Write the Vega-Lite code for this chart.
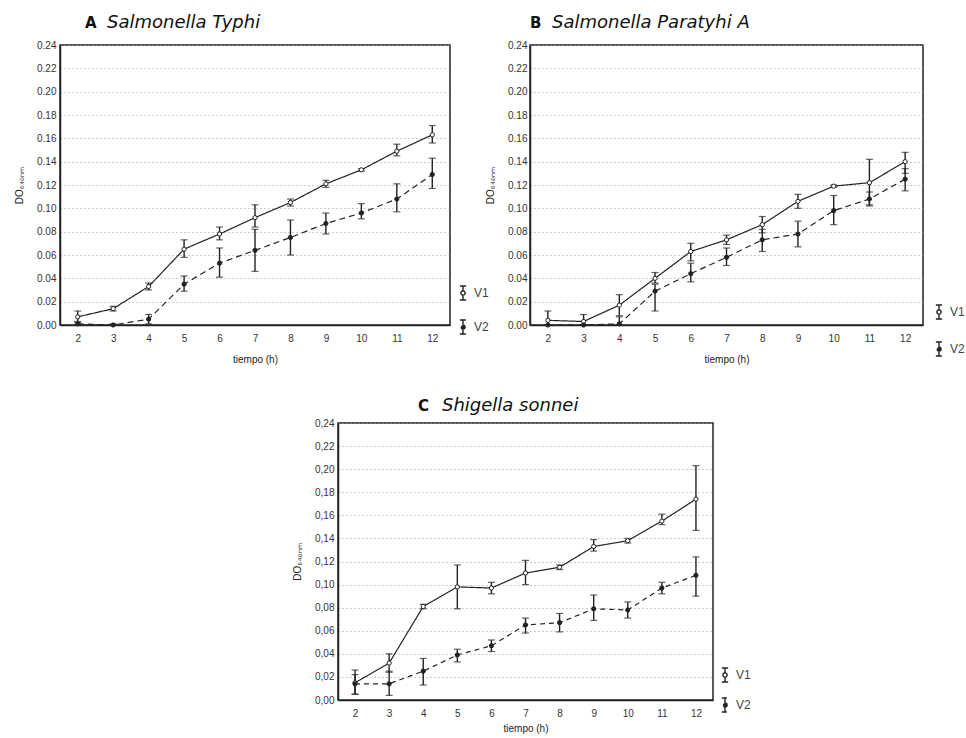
{
  "$schema": "https://vega.github.io/schema/vega-lite/v6.json",
  "background": "white",
  "padding": {"left": 13, "top": 12, "right": 0, "bottom": 0},
  "config": {
    "view": {"stroke": "#222", "strokeWidth": 1.5},
    "axis": {"labelFont": "Liberation Sans", "labelFontSize": 10, "labelColor": "#333", "labelOverlap": false, "titleFont": "Liberation Sans", "titleFontSize": 10, "titleFontWeight": "normal", "titleColor": "#222", "domainColor": "#222", "domainWidth": 1.5, "ticks": false, "grid": false},
    "axisY": {"grid": true, "gridColor": "#999", "gridDash": [1, 3], "labelPadding": 4, "titlePadding": 12},
    "axisX": {"labelPadding": 8, "titlePadding": 11},
    "legend": {"title": null, "orient": "none", "padding": 0, "symbolType": "M-0.45,-1H0.45M0,-1V-0.3M0,0.3V1M-0.45,1H0.45M0.3,0A0.3,0.3 0 1,1 -0.3,0A0.3,0.3 0 1,1 0.3,0Z", "symbolSize": 196, "symbolStrokeColor": "#222", "symbolFillColor": "white", "symbolStrokeWidth": 1.4, "labelFont": "Liberation Sans", "labelFontSize": 12, "labelColor": "#444", "labelOffset": 3}
  },
  "datasets": {
    "A": [
      {"t": 2, "serie": "V1", "y": 0.007, "lo": 0.003, "hi": 0.012},
      {"t": 3, "serie": "V1", "y": 0.014, "lo": 0.012, "hi": 0.016},
      {"t": 4, "serie": "V1", "y": 0.033, "lo": 0.030, "hi": 0.036},
      {"t": 5, "serie": "V1", "y": 0.065, "lo": 0.058, "hi": 0.073},
      {"t": 6, "serie": "V1", "y": 0.078, "lo": 0.073, "hi": 0.084},
      {"t": 7, "serie": "V1", "y": 0.092, "lo": 0.084, "hi": 0.103},
      {"t": 8, "serie": "V1", "y": 0.105, "lo": 0.102, "hi": 0.108},
      {"t": 9, "serie": "V1", "y": 0.121, "lo": 0.118, "hi": 0.124},
      {"t": 10, "serie": "V1", "y": 0.133, "lo": 0.132, "hi": 0.134},
      {"t": 11, "serie": "V1", "y": 0.149, "lo": 0.145, "hi": 0.155},
      {"t": 12, "serie": "V1", "y": 0.163, "lo": 0.156, "hi": 0.171},
      {"t": 2, "serie": "V2", "y": 0.001, "lo": 0.000, "hi": 0.002},
      {"t": 3, "serie": "V2", "y": 0.000, "lo": 0.000, "hi": 0.001},
      {"t": 4, "serie": "V2", "y": 0.005, "lo": 0.001, "hi": 0.009},
      {"t": 5, "serie": "V2", "y": 0.035, "lo": 0.029, "hi": 0.042},
      {"t": 6, "serie": "V2", "y": 0.053, "lo": 0.041, "hi": 0.066},
      {"t": 7, "serie": "V2", "y": 0.064, "lo": 0.046, "hi": 0.082},
      {"t": 8, "serie": "V2", "y": 0.075, "lo": 0.060, "hi": 0.090},
      {"t": 9, "serie": "V2", "y": 0.087, "lo": 0.078, "hi": 0.096},
      {"t": 10, "serie": "V2", "y": 0.096, "lo": 0.091, "hi": 0.104},
      {"t": 11, "serie": "V2", "y": 0.108, "lo": 0.097, "hi": 0.121},
      {"t": 12, "serie": "V2", "y": 0.129, "lo": 0.117, "hi": 0.143}
    ],
    "B": [
      {"t": 2, "serie": "V1", "y": 0.004, "lo": 0.000, "hi": 0.012},
      {"t": 3, "serie": "V1", "y": 0.003, "lo": 0.000, "hi": 0.009},
      {"t": 4, "serie": "V1", "y": 0.017, "lo": 0.008, "hi": 0.026},
      {"t": 5, "serie": "V1", "y": 0.040, "lo": 0.036, "hi": 0.045},
      {"t": 6, "serie": "V1", "y": 0.063, "lo": 0.055, "hi": 0.070},
      {"t": 7, "serie": "V1", "y": 0.073, "lo": 0.069, "hi": 0.077},
      {"t": 8, "serie": "V1", "y": 0.086, "lo": 0.079, "hi": 0.093},
      {"t": 9, "serie": "V1", "y": 0.106, "lo": 0.100, "hi": 0.112},
      {"t": 10, "serie": "V1", "y": 0.119, "lo": 0.118, "hi": 0.120},
      {"t": 11, "serie": "V1", "y": 0.122, "lo": 0.103, "hi": 0.142},
      {"t": 12, "serie": "V1", "y": 0.140, "lo": 0.130, "hi": 0.148},
      {"t": 2, "serie": "V2", "y": 0.000, "lo": 0.000, "hi": 0.000},
      {"t": 3, "serie": "V2", "y": 0.000, "lo": 0.000, "hi": 0.000},
      {"t": 4, "serie": "V2", "y": 0.001, "lo": 0.000, "hi": 0.007},
      {"t": 5, "serie": "V2", "y": 0.029, "lo": 0.012, "hi": 0.035},
      {"t": 6, "serie": "V2", "y": 0.044, "lo": 0.037, "hi": 0.053},
      {"t": 7, "serie": "V2", "y": 0.058, "lo": 0.051, "hi": 0.066},
      {"t": 8, "serie": "V2", "y": 0.073, "lo": 0.063, "hi": 0.082},
      {"t": 9, "serie": "V2", "y": 0.078, "lo": 0.067, "hi": 0.089},
      {"t": 10, "serie": "V2", "y": 0.098, "lo": 0.086, "hi": 0.111},
      {"t": 11, "serie": "V2", "y": 0.108, "lo": 0.102, "hi": 0.114},
      {"t": 12, "serie": "V2", "y": 0.125, "lo": 0.115, "hi": 0.134}
    ],
    "C": [
      {"t": 2, "serie": "V1", "y": 0.015, "lo": 0.005, "hi": 0.026},
      {"t": 3, "serie": "V1", "y": 0.032, "lo": 0.024, "hi": 0.040},
      {"t": 4, "serie": "V1", "y": 0.081, "lo": 0.079, "hi": 0.083},
      {"t": 5, "serie": "V1", "y": 0.098, "lo": 0.079, "hi": 0.117},
      {"t": 6, "serie": "V1", "y": 0.097, "lo": 0.092, "hi": 0.102},
      {"t": 7, "serie": "V1", "y": 0.110, "lo": 0.100, "hi": 0.121},
      {"t": 8, "serie": "V1", "y": 0.115, "lo": 0.113, "hi": 0.117},
      {"t": 9, "serie": "V1", "y": 0.133, "lo": 0.129, "hi": 0.139},
      {"t": 10, "serie": "V1", "y": 0.138, "lo": 0.136, "hi": 0.140},
      {"t": 11, "serie": "V1", "y": 0.155, "lo": 0.152, "hi": 0.161},
      {"t": 12, "serie": "V1", "y": 0.174, "lo": 0.147, "hi": 0.203},
      {"t": 2, "serie": "V2", "y": 0.014, "lo": 0.005, "hi": 0.022},
      {"t": 3, "serie": "V2", "y": 0.014, "lo": 0.004, "hi": 0.025},
      {"t": 4, "serie": "V2", "y": 0.025, "lo": 0.013, "hi": 0.036},
      {"t": 5, "serie": "V2", "y": 0.039, "lo": 0.033, "hi": 0.044},
      {"t": 6, "serie": "V2", "y": 0.047, "lo": 0.042, "hi": 0.052},
      {"t": 7, "serie": "V2", "y": 0.065, "lo": 0.058, "hi": 0.071},
      {"t": 8, "serie": "V2", "y": 0.067, "lo": 0.059, "hi": 0.075},
      {"t": 9, "serie": "V2", "y": 0.079, "lo": 0.069, "hi": 0.091},
      {"t": 10, "serie": "V2", "y": 0.078, "lo": 0.071, "hi": 0.085},
      {"t": 11, "serie": "V2", "y": 0.097, "lo": 0.092, "hi": 0.102},
      {"t": 12, "serie": "V2", "y": 0.108, "lo": 0.090, "hi": 0.124}
    ]
  },
  "resolve": {"scale": {"fill": "independent", "strokeDash": "independent"}, "legend": {"fill": "independent", "strokeDash": "independent"}},
  "spacing": 31,
  "vconcat": [
    {
      "bounds": "flush",
      "spacing": 80,
      "resolve": {"scale": {"fill": "independent", "strokeDash": "independent"}, "legend": {"fill": "independent", "strokeDash": "independent"}},
      "hconcat": [
        {
          "width": 390, "height": 280,
          "data": {"name": "A"},
          "resolve": {"axis": {"x": "independent", "y": "independent"}},
          "layer": [
            {"mark": {"type": "line", "color": "#222", "strokeWidth": 1.2},
             "encoding": {
               "x": {"field": "t", "type": "quantitative", "scale": {"domain": [1.5, 12.5], "nice": false, "zero": false}, "axis": {"values": [2,3,4,5,6,7,8,9,10,11,12], "title": "tiempo (h)"}},
               "y": {"field": "y", "type": "quantitative", "scale": {"domain": [0, 0.24], "nice": false}, "axis": {"values": [0,0.02,0.04,0.06,0.08,0.1,0.12,0.14,0.16,0.18,0.2,0.22,0.24], "format": ".2f", "title": "DO₆₄₀ₙₘ"}},
               "strokeDash": {"field": "serie", "type": "nominal", "scale": {"domain": ["V1", "V2"], "range": [[1, 0], [6, 4]]},
                 "legend": {"legendX": 395, "legendY": 240, "rowPadding": 14}}
             }},
            {"mark": {"type": "errorbar", "color": "#222", "ticks": {"size": 7, "thickness": 1.2}, "rule": {"strokeWidth": 1.4}},
             "encoding": {
               "x": {"field": "t", "type": "quantitative", "axis": null},
               "y": {"field": "lo", "type": "quantitative", "axis": null},
               "y2": {"field": "hi"}
             }},
            {"mark": {"type": "point", "filled": true, "stroke": "#222", "strokeWidth": 1, "size": 18, "opacity": 1},
             "encoding": {
               "x": {"field": "t", "type": "quantitative", "axis": null},
               "y": {"field": "y", "type": "quantitative", "axis": null},
               "fill": {"field": "serie", "type": "nominal", "scale": {"domain": ["V1", "V2"], "range": ["white", "#222"]}, "legend": null}
             }},
            {"data": {"values": [{"letter": "A"}]},
             "mark": {"type": "text", "font": "DejaVu Sans", "fontSize": 15, "fontWeight": "bold", "align": "left", "baseline": "alphabetic", "color": "#111"},
             "encoding": {"text": {"field": "letter"}, "x": {"datum": 2.205, "axis": null}, "y": {"datum": 0.255, "axis": null}}},
            {"data": {"values": [{"name": "Salmonella Typhi"}]},
             "mark": {"type": "text", "font": "DejaVu Sans", "fontSize": 18, "fontStyle": "italic", "align": "left", "baseline": "alphabetic", "color": "#111"},
             "encoding": {"text": {"field": "name"}, "x": {"datum": 2.826, "axis": null}, "y": {"datum": 0.255, "axis": null}}}
          ]
        },
        {
          "width": 393, "height": 280,
          "data": {"name": "B"},
          "resolve": {"axis": {"x": "independent", "y": "independent"}},
          "layer": [
            {"mark": {"type": "line", "color": "#222", "strokeWidth": 1.2},
             "encoding": {
               "x": {"field": "t", "type": "quantitative", "scale": {"domain": [1.5, 12.5], "nice": false, "zero": false}, "axis": {"values": [2,3,4,5,6,7,8,9,10,11,12], "title": "tiempo (h)"}},
               "y": {"field": "y", "type": "quantitative", "scale": {"domain": [0, 0.24], "nice": false}, "axis": {"values": [0,0.02,0.04,0.06,0.08,0.1,0.12,0.14,0.16,0.18,0.2,0.22,0.24], "format": ".2f", "title": "DO₆₄₀ₙₘ", "labelPadding": 3}},
               "strokeDash": {"field": "serie", "type": "nominal", "scale": {"domain": ["V1", "V2"], "range": [[1, 0], [6, 4]]},
                 "legend": {"legendX": 401, "legendY": 259, "rowPadding": 17}}
             }},
            {"mark": {"type": "errorbar", "color": "#222", "ticks": {"size": 7, "thickness": 1.2}, "rule": {"strokeWidth": 1.4}},
             "encoding": {
               "x": {"field": "t", "type": "quantitative", "axis": null},
               "y": {"field": "lo", "type": "quantitative", "axis": null},
               "y2": {"field": "hi"}
             }},
            {"mark": {"type": "point", "filled": true, "stroke": "#222", "strokeWidth": 1, "size": 18, "opacity": 1},
             "encoding": {
               "x": {"field": "t", "type": "quantitative", "axis": null},
               "y": {"field": "y", "type": "quantitative", "axis": null},
               "fill": {"field": "serie", "type": "nominal", "scale": {"domain": ["V1", "V2"], "range": ["white", "#222"]}, "legend": null}
             }},
            {"data": {"values": [{"letter": "B"}]},
             "mark": {"type": "text", "font": "DejaVu Sans", "fontSize": 15, "fontWeight": "bold", "align": "left", "baseline": "alphabetic", "color": "#111"},
             "encoding": {"text": {"field": "letter"}, "x": {"datum": 1.5, "axis": null}, "y": {"datum": 0.255, "axis": null}}},
            {"data": {"values": [{"name": "Salmonella Paratyhi A"}]},
             "mark": {"type": "text", "font": "DejaVu Sans", "fontSize": 18, "fontStyle": "italic", "align": "left", "baseline": "alphabetic", "color": "#111"},
             "encoding": {"text": {"field": "name"}, "x": {"datum": 2.116, "axis": null}, "y": {"datum": 0.255, "axis": null}}}
          ]
        }
      ]
    },
    {
      "bounds": "flush",
      "spacing": 80,
      "resolve": {"scale": {"fill": "independent", "strokeDash": "independent"}, "legend": {"fill": "independent", "strokeDash": "independent"}},
      "hconcat": [
        {
          "width": 198, "height": 277,
          "data": {"values": []},
          "mark": "point",
          "encoding": {},
          "view": {"stroke": "transparent", "fill": null}
        },
        {
          "width": 375, "height": 277,
          "data": {"name": "C"},
          "resolve": {"axis": {"x": "independent", "y": "independent"}},
          "layer": [
            {"mark": {"type": "line", "color": "#222", "strokeWidth": 1.2},
             "encoding": {
               "x": {"field": "t", "type": "quantitative", "scale": {"domain": [1.5, 12.5], "nice": false, "zero": false}, "axis": {"values": [2,3,4,5,6,7,8,9,10,11,12], "title": "tiempo (h)", "titlePadding": 5}},
               "y": {"field": "y", "type": "quantitative", "scale": {"domain": [0, 0.24], "nice": false}, "axis": {"values": [0,0.02,0.04,0.06,0.08,0.1,0.12,0.14,0.16,0.18,0.2,0.22,0.24], "labelExpr": "replace(format(datum.value, '.2f'), '.', ',')", "title": "DO₆₄₀ₙₘ"}},
               "strokeDash": {"field": "serie", "type": "nominal", "scale": {"domain": ["V1", "V2"], "range": [[1, 0], [5, 4]]},
                 "legend": {"legendX": 379, "legendY": 244, "rowPadding": 10}}
             }},
            {"mark": {"type": "errorbar", "color": "#222", "ticks": {"size": 7, "thickness": 1.2}, "rule": {"strokeWidth": 1.4}},
             "encoding": {
               "x": {"field": "t", "type": "quantitative", "axis": null},
               "y": {"field": "lo", "type": "quantitative", "axis": null},
               "y2": {"field": "hi"}
             }},
            {"mark": {"type": "point", "filled": true, "stroke": "#222", "strokeWidth": 1, "size": 18, "opacity": 1},
             "encoding": {
               "x": {"field": "t", "type": "quantitative", "axis": null},
               "y": {"field": "y", "type": "quantitative", "axis": null},
               "fill": {"field": "serie", "type": "nominal", "scale": {"domain": ["V1", "V2"], "range": ["white", "#222"]}, "legend": null}
             }},
            {"data": {"values": [{"letter": "C"}]},
             "mark": {"type": "text", "font": "DejaVu Sans", "fontSize": 15, "fontWeight": "bold", "align": "left", "baseline": "alphabetic", "color": "#111"},
             "encoding": {"text": {"field": "letter"}, "x": {"datum": 3.846, "axis": null}, "y": {"datum": 0.2504, "axis": null}}},
            {"data": {"values": [{"name": "Shigella sonnei"}]},
             "mark": {"type": "text", "font": "DejaVu Sans", "fontSize": 18, "fontStyle": "italic", "align": "left", "baseline": "alphabetic", "color": "#111"},
             "encoding": {"text": {"field": "name"}, "x": {"datum": 4.551, "axis": null}, "y": {"datum": 0.2504, "axis": null}}}
          ]
        }
      ]
    }
  ]
}
